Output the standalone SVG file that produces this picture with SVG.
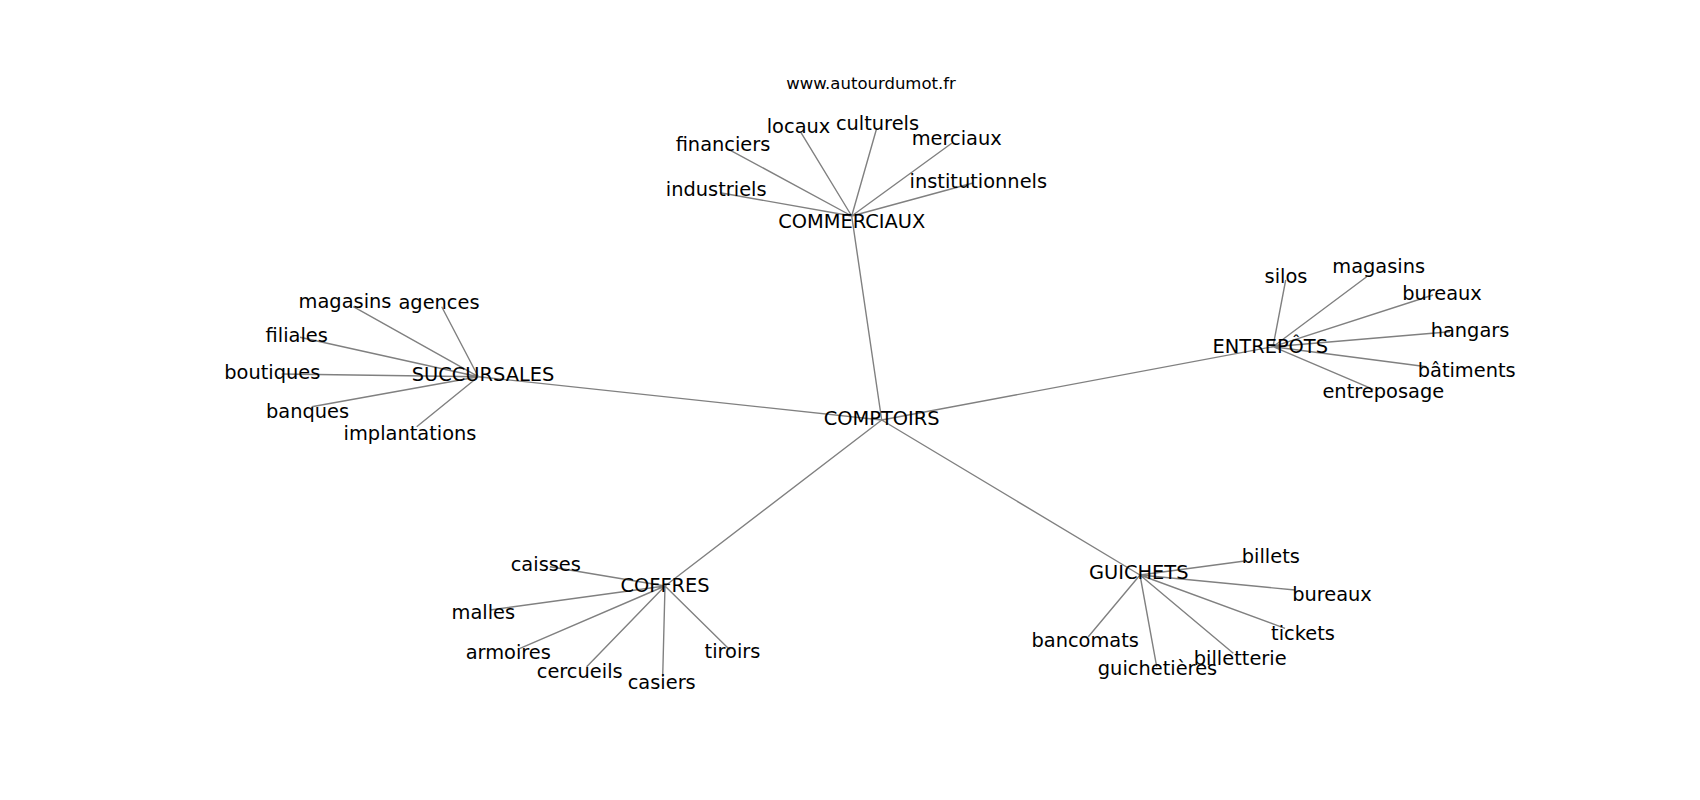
<svg xmlns="http://www.w3.org/2000/svg" width="1700" height="800" viewBox="0 0 1700 800">
<style>
.e{stroke:#808080;stroke-width:1.4;fill:none}
text{font-family:"DejaVu Sans","Liberation Sans",sans-serif;font-size:19.4px;fill:#000;text-anchor:middle}
.t{font-size:16.5px}
</style>
<rect width="1700" height="800" fill="#fff"/>
<g id="connectors">
<path class="e" d="M881.7 420L851.7 216M881.7 420L478.3 376.7M881.7 420L1273 346.7M881.7 420L665 586M881.7 420L1140 575"/>
<path class="e" d="M851.7 216L801 132.7M851.7 216L876.7 128.3M851.7 216L726.7 148.3M851.7 216L951.7 143.3M851.7 216L720 192.7M851.7 216L973 183"/>
<path class="e" d="M478.3 376.7L353.3 306.7M478.3 376.7L441.7 306.7M478.3 376.7L300 337.3M478.3 376.7L281.7 374M478.3 376.7L311.7 406.7M478.3 376.7L416.7 426.7"/>
<path class="e" d="M1273 346.7L1285.7 280M1273 346.7L1366.7 276.7M1273 346.7L1433 295M1273 346.7L1450 331.7M1273 346.7L1426.7 366.7M1273 346.7L1373.3 389.3"/>
<path class="e" d="M665 586L550 566.7M665 586L490 610M665 586L520 648.3M665 586L586.7 666.7M665 586L662.7 676.7M665 586L730 650"/>
<path class="e" d="M1140 575L1246.7 560.7M1140 575L1295 590M1140 575L1285 628.3M1140 575L1088.3 636.7M1140 575L1233.3 653.3M1140 575L1156.7 666.7"/>
</g>
<g id="title"><text class="t" x="871" y="89">www.autourdumot.fr</text></g>
<g id="n-comptoirs"><text x="881.7" y="425">COMPTOIRS</text></g>
<g id="n-commerciaux"><text x="851.7" y="227.5">COMMERCIAUX</text></g>
<g id="n-locaux"><text x="798.5" y="132.7">locaux</text></g>
<g id="n-culturels"><text x="877.5" y="130">culturels</text></g>
<g id="n-financiers"><text x="723" y="150.7">financiers</text></g>
<g id="n-merciaux"><text x="956.7" y="145">merciaux</text></g>
<g id="n-industriels"><text x="716.2" y="196">industriels</text></g>
<g id="n-institutionnels"><text x="978.3" y="188.3">institutionnels</text></g>
<g id="n-succursales"><text x="483" y="380.7">SUCCURSALES</text></g>
<g id="n-magasins1"><text x="345" y="308.3">magasins</text></g>
<g id="n-agences"><text x="439" y="309.3">agences</text></g>
<g id="n-filiales"><text x="296.7" y="341.7">filiales</text></g>
<g id="n-boutiques"><text x="272.3" y="379.3">boutiques</text></g>
<g id="n-banques"><text x="307.5" y="418">banques</text></g>
<g id="n-implantations"><text x="410" y="440">implantations</text></g>
<g id="n-entrepots"><text x="1270.3" y="353.3">ENTREPÔTS</text></g>
<g id="n-silos"><text x="1286" y="283.3">silos</text></g>
<g id="n-magasins2"><text x="1378.7" y="273.3">magasins</text></g>
<g id="n-bureaux1"><text x="1442" y="300">bureaux</text></g>
<g id="n-hangars"><text x="1470" y="336.7">hangars</text></g>
<g id="n-batiments"><text x="1466.7" y="376.7">bâtiments</text></g>
<g id="n-entreposage"><text x="1383.3" y="398.3">entreposage</text></g>
<g id="n-coffres"><text x="665" y="591.7">COFFRES</text></g>
<g id="n-caisses"><text x="545.8" y="570.7">caisses</text></g>
<g id="n-malles"><text x="483.3" y="619.3">malles</text></g>
<g id="n-armoires"><text x="508.3" y="659.3">armoires</text></g>
<g id="n-cercueils"><text x="579.7" y="678.3">cercueils</text></g>
<g id="n-casiers"><text x="661.7" y="689.3">casiers</text></g>
<g id="n-tiroirs"><text x="732.5" y="658.3">tiroirs</text></g>
<g id="n-guichets"><text x="1138.8" y="579.3">GUICHETS</text></g>
<g id="n-billets"><text x="1270.8" y="562.7">billets</text></g>
<g id="n-bureaux2"><text x="1332" y="601">bureaux</text></g>
<g id="n-tickets"><text x="1303" y="640">tickets</text></g>
<g id="n-bancomats"><text x="1085.2" y="647.3">bancomats</text></g>
<g id="n-billetterie"><text x="1240.2" y="665">billetterie</text></g>
<g id="n-guichetieres"><text x="1157.5" y="675">guichetières</text></g>
</svg>
